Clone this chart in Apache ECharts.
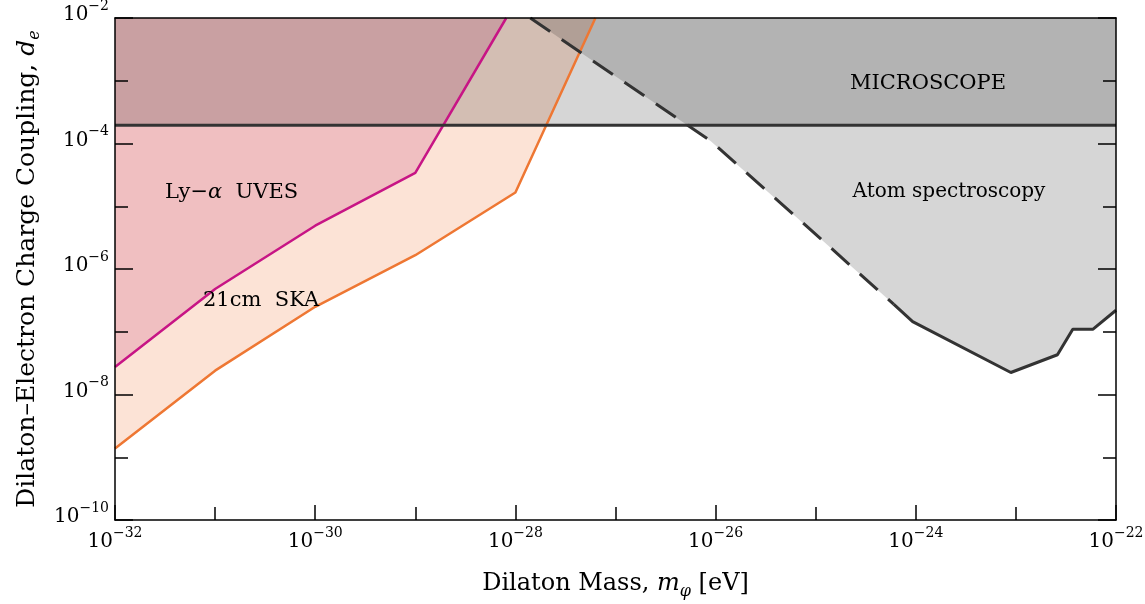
<!DOCTYPE html>
<html><head><meta charset="utf-8">
<script src="https://cdn.jsdelivr.net/npm/echarts@6/dist/echarts.min.js"></script>
<style>html,body{margin:0;padding:0;background:#fff}#c{width:1145px;height:604px}</style>
</head><body><div id="c"></div>
<script>
// ---- data (physical values) ----
const xExpRange = [-32, -22];           // dilaton mass axis, decades (eV)
const yExpRange = [-10, -2];            // coupling axis, decades
const xTickExponents = [-32, -30, -28, -26, -24, -22];
const yTickExponents = [-10, -8, -6, -4, -2];

const lyaMass     = [1e-32, 1e-31, 1e-30, 1e-29, 8.1e-29];
const lyaCoupling = [2.75e-8, 4.8e-7, 4.9e-6, 3.4e-5, 1e-2];

const skaMass     = [1e-32, 1e-31, 1e-30, 1e-29, 1e-28, 6.3e-28];
const skaCoupling = [1.38e-9, 2.4e-8, 2.5e-7, 1.66e-6, 1.66e-5, 1e-2];

const microscopeCoupling = 1.95e-4;

const atomDashMass      = [1.41e-28, 5.0e-28, 8.9e-27, 7.9e-26, 6.0e-25];
const atomDashCoupling  = [1e-2, 2.5e-3, 1.1e-4, 5.0e-6, 2.75e-7];
const atomSolidMass     = [6.0e-25, 9.3e-25, 8.9e-24, 2.6e-23, 3.7e-23, 5.9e-23, 1e-22];
const atomSolidCoupling = [2.75e-7, 1.45e-7, 2.24e-8, 4.3e-8, 1.1e-7, 1.1e-7, 2.2e-7];

// ---- build ----
const FONT = 'DejaVu Serif';
const L = v => Math.log10(v);
const toPts = (xs, ys) => xs.map((x, i) => [L(x), L(ys[i])]);
const xMin = xExpRange[0], xMax = xExpRange[1], yMin = yExpRange[0], yMax = yExpRange[1];

const lyaPts = toPts(lyaMass, lyaCoupling);
const skaPts = toPts(skaMass, skaCoupling);
const dashPts = toPts(atomDashMass, atomDashCoupling);
const solidPts = toPts(atomSolidMass, atomSolidCoupling);
const microPts = [[xMin, L(microscopeCoupling)], [xMax, L(microscopeCoupling)]];

function fillSeries(pts, color, z) {
  return {
    type: 'custom', coordinateSystem: 'cartesian2d', data: pts, z: z, silent: true, clip: true,
    renderItem: function (params, api) {
      if (params.dataIndex !== 0) return null;
      return { type: 'polygon', shape: { points: pts.map(p => api.coord(p)) }, style: { fill: color } };
    }
  };
}
function lineSeries(pts, color, width, type, z) {
  return {
    type: 'line', data: pts, showSymbol: false, symbol: 'none', silent: true, z: z, clip: true,
    lineStyle: { color: color, width: width, type: type || 'solid' }
  };
}

const skaPoly = skaPts.concat([[xMin, yMax]]);
const lyaPoly = lyaPts.concat([[xMin, yMax]]);
const atomPoly = dashPts.concat(solidPts.slice(1)).concat([[xMax, yMax]]);
const microPoly = microPts.concat([[xMax, yMax], [xMin, yMax]]);

const supRich = {
  b: { fontFamily: FONT, fontSize: 20, color: '#000', lineHeight: 26, verticalAlign: 'bottom' },
  s: { fontFamily: FONT, fontSize: 14, color: '#000', lineHeight: 15, verticalAlign: 'top' }
};
function fmt(list) {
  return function (v) {
    const e = Math.round(v);
    return list.indexOf(e) >= 0 ? '{b|10}{s|\u2212' + (-e) + '}' : '';
  };
}
const axisLineStyle = { color: '#000', width: 1.5 };
function titleRich(size) {
  return {
    n: { fontFamily: FONT, fontSize: size, color: '#000', lineHeight: 28, verticalAlign: 'top' },
    i: { fontFamily: FONT, fontSize: size, fontStyle: 'italic', color: '#000', lineHeight: 28, verticalAlign: 'top' },
    sub: { fontFamily: FONT, fontSize: 16, fontStyle: 'italic', color: '#000', lineHeight: 17, verticalAlign: 'bottom' }
  };
}

const option = {
  animation: false,
  backgroundColor: '#fff',
  grid: { left: 115, right: 29, top: 18, bottom: 84, containLabel: false, outerBoundsMode: 'none' },
  xAxis: [
    {
      type: 'value', position: 'bottom', min: xMin, max: xMax, interval: 2, z: 30,
      axisLine: { show: true, lineStyle: axisLineStyle },
      axisTick: { show: true, inside: true, length: 15, lineStyle: axisLineStyle },
      minorTick: { show: true, splitNumber: 2, length: 13, lineStyle: axisLineStyle },
      splitLine: { show: false }, minorSplitLine: { show: false },
      axisLabel: { formatter: fmt(xTickExponents), margin: 6, rich: supRich, showMinLabel: true, showMaxLabel: true },
      name: '{n|Dilaton Mass, }{i|m}{sub|\u03c6}{n| [eV]}',
      nameLocation: 'middle', nameGap: 52,
      nameTextStyle: { rich: titleRich(24) }
    },
    {
      type: 'value', position: 'top', min: xMin, max: xMax, interval: 2, z: 30,
      axisLine: { show: true, lineStyle: axisLineStyle },
      axisTick: { show: false }, axisLabel: { show: false }, splitLine: { show: false }
    }
  ],
  yAxis: [
    {
      type: 'value', position: 'left', min: yMin, max: yMax, interval: 2, z: 30,
      axisLine: { show: true, lineStyle: axisLineStyle },
      axisTick: { show: true, inside: true, length: 18, lineStyle: axisLineStyle },
      minorTick: { show: true, splitNumber: 2, length: 13, lineStyle: axisLineStyle },
      splitLine: { show: false }, minorSplitLine: { show: false },
      axisLabel: { formatter: fmt(yTickExponents), margin: 6, rich: supRich, padding: [0, 0, 12, 0], showMinLabel: true, showMaxLabel: true },
      name: '{n|Dilaton\u2013Electron Charge Coupling, }{i|d}{sub|e}',
      nameLocation: 'middle', nameGap: 71, nameRotate: 90,
      nameTextStyle: { rich: titleRich(25) }
    },
    {
      type: 'value', position: 'right', min: yMin, max: yMax, interval: 2, z: 30,
      axisLine: { show: true, lineStyle: axisLineStyle },
      axisTick: { show: true, inside: true, length: 18, lineStyle: axisLineStyle },
      minorTick: { show: true, splitNumber: 2, length: 13, lineStyle: axisLineStyle },
      axisLabel: { show: false }, splitLine: { show: false }, minorSplitLine: { show: false }
    }
  ],
  series: [
    fillSeries(skaPoly, '#fce3d6', 1),
    fillSeries(lyaPoly, '#f0bfc1', 2),
    fillSeries(atomPoly, 'rgba(0,0,0,0.16)', 3),
    fillSeries(microPoly, 'rgba(0,0,0,0.16)', 4),
    lineSeries(lyaPts, '#c71585', 2.5, 'solid', 10),
    lineSeries(skaPts, '#ee7733', 2.5, 'solid', 10),
    lineSeries(microPts, '#333333', 3, 'solid', 11),
    lineSeries(dashPts, '#333333', 3, [24, 14], 11),
    lineSeries(solidPts, '#333333', 3, 'solid', 11)
  ],
  graphic: [
    { type: 'text', x: 165, y: 193, z: 100, style: { text: '{n|Ly\u2212}{i|\u03b1}{n|  UVES}', align: 'left', verticalAlign: 'middle',
      rich: { n: { fontFamily: FONT, fontSize: 21, fill: '#000' }, i: { fontFamily: FONT, fontSize: 21, fontStyle: 'italic', fill: '#000' } } } },
    { type: 'text', x: 203, y: 301, z: 100, style: { text: '21cm  SKA', fontFamily: FONT, fontSize: 21, fill: '#000', align: 'left', verticalAlign: 'middle' } },
    { type: 'text', x: 928, y: 84, z: 100, style: { text: 'MICROSCOPE', fontFamily: FONT, fontSize: 21, fill: '#000', align: 'center', verticalAlign: 'middle' } },
    { type: 'text', x: 949, y: 192, z: 100, style: { text: 'Atom spectroscopy', fontFamily: FONT, fontSize: 20, fill: '#000', align: 'center', verticalAlign: 'middle' } }
  ]
};
const chart = echarts.init(document.getElementById('c'), null, { renderer: 'canvas' });
chart.setOption(option);
</script></body></html>
